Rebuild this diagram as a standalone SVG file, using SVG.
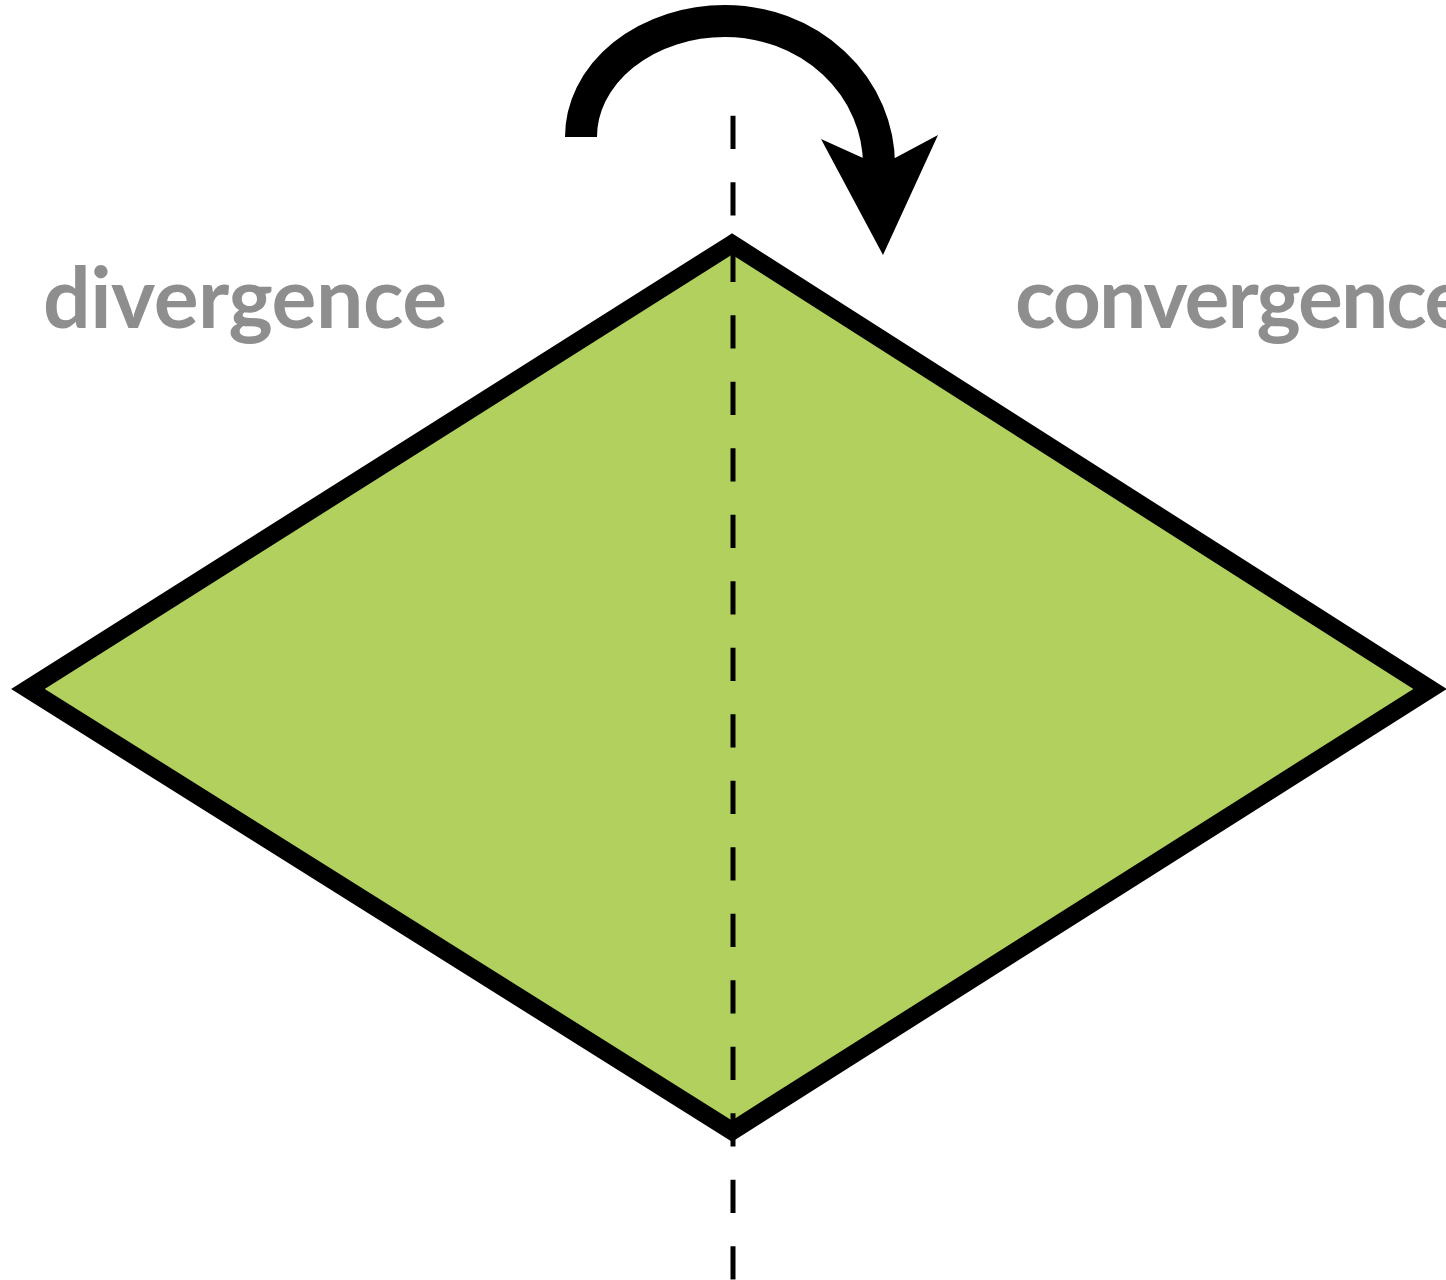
<svg xmlns="http://www.w3.org/2000/svg" width="1446" height="1280" viewBox="0 0 1446 1280">
<style>
.lbl{font-family:Lato,"Open Sans","DejaVu Sans",sans-serif;font-weight:bold;font-size:84px;fill:#8e8e8e}
.axis{stroke:#000;stroke-width:5;stroke-dasharray:33.25 33.25;fill:none}
</style>
<rect width="1446" height="1280" fill="#fff"/>
<g id="diamond">
<path d="M732,244 L28,689 L732,1131 L1430,689 Z" fill="#b1d05e" stroke="#000" stroke-width="18" stroke-linejoin="miter" stroke-miterlimit="10"/>
</g>
<g id="connectors">
<line class="axis" x1="733" y1="115.7" x2="733" y2="1280"/>
<path d="M581,137 A144,116 0 0 1 725,21 A154,144 0 0 1 879,165" fill="none" stroke="#000" stroke-width="32"/>
<polygon points="821,139 863,158 879,150 895,158 938,135 883,255" fill="#000"/>
</g>
<g id="label-divergence"><text class="lbl" x="43" y="328" textLength="404">divergence</text></g>
<g id="label-convergence"><text class="lbl" x="1015" y="328" textLength="454">convergence</text></g>
</svg>
